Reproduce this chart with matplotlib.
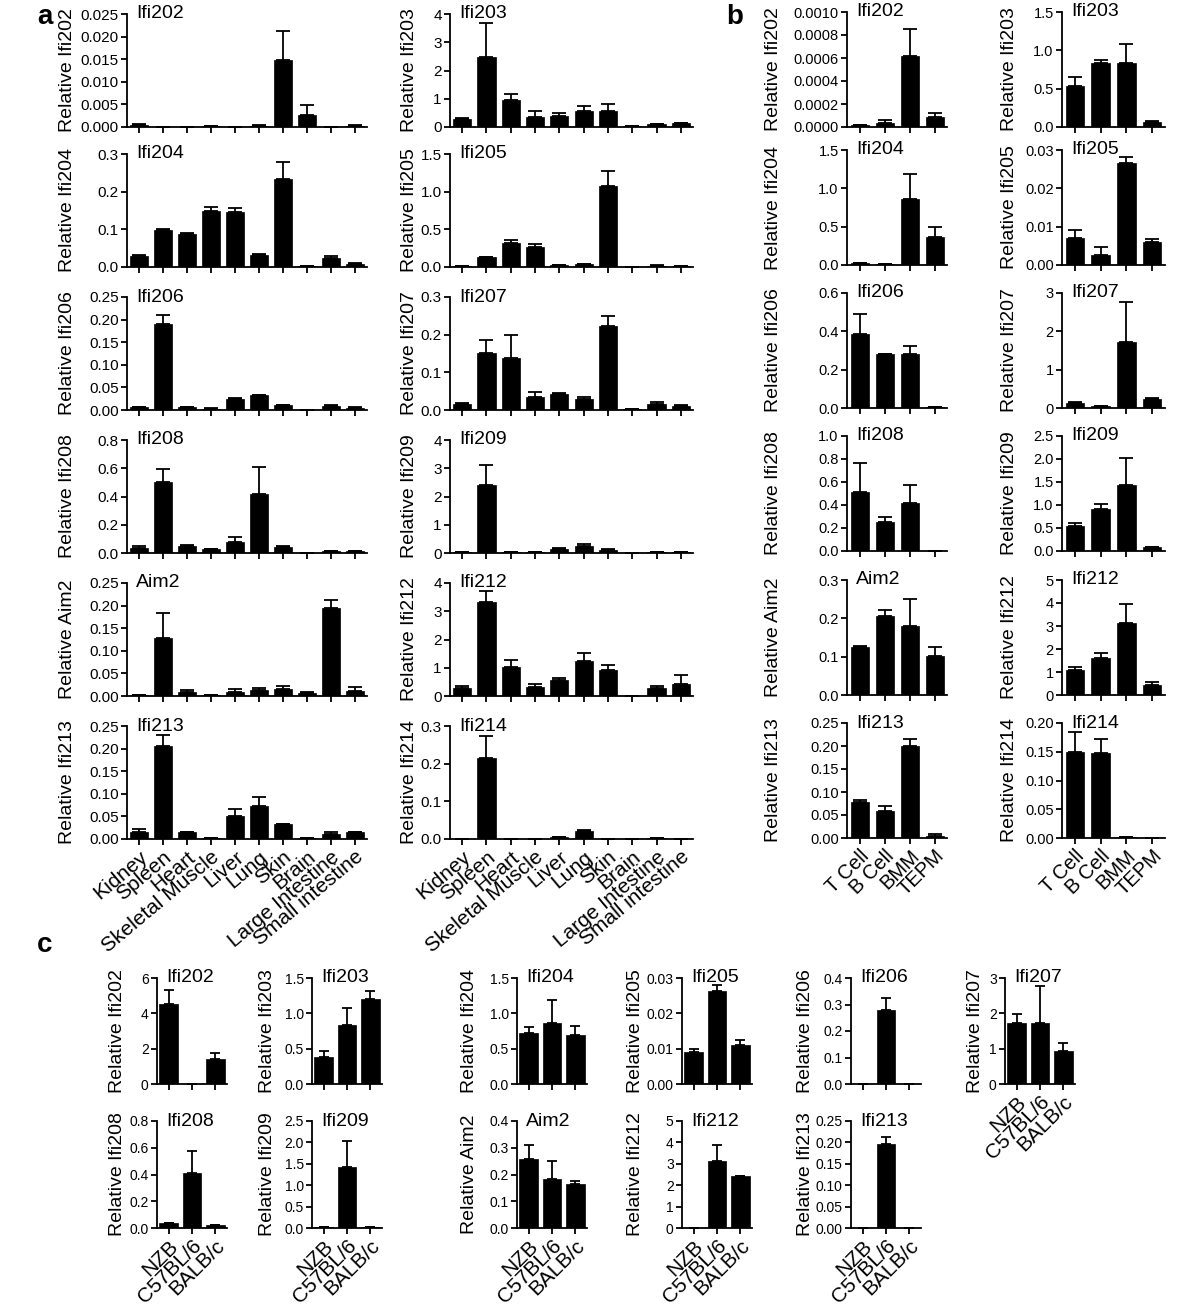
import numpy as np
import matplotlib.pyplot as plt

plt.rcParams['font.family'] = ['Liberation Sans', 'DejaVu Sans']

# ---- categories ----
tissues = ['Kidney', 'Spleen', 'Heart', 'Skeletal Muscle', 'Liver', 'Lung', 'Skin',
           'Brain', 'Large Intestine', 'Small intestine']
cells = ['T Cell', 'B Cell', 'BMM', 'TEPM']
strains = ['NZB', 'C57BL/6', 'BALB/c']

# ---- panel a: tissues (mean, sem) ----
a_Ifi202 = [0.0005, 0.0001, 0.0001, 0.0002, 0.0001, 0.0003, 0.0148, 0.0026, 0.0001, 0.0003]
a_Ifi202_sem = [0.0002, 0, 0, 0, 0, 0.0001, 0.0065, 0.0022, 0, 0.0001]
a_Ifi203 = [0.27, 2.47, 0.96, 0.34, 0.38, 0.57, 0.57, 0.02, 0.09, 0.13]
a_Ifi203_sem = [0.04, 1.2, 0.21, 0.23, 0.1, 0.19, 0.26, 0.005, 0.01, 0.02]
a_Ifi204 = [0.030, 0.099, 0.088, 0.148, 0.147, 0.033, 0.234, 0.003, 0.024, 0.009]
a_Ifi204_sem = [0.001, 0.001, 0.001, 0.011, 0.009, 0.001, 0.045, 0.0005, 0.006, 0.002]
a_Ifi205 = [0.01, 0.13, 0.32, 0.27, 0.02, 0.04, 1.08, 0.005, 0.015, 0.01]
a_Ifi205_sem = [0, 0.005, 0.04, 0.03, 0.005, 0.005, 0.2, 0, 0.005, 0]
a_Ifi206 = [0.007, 0.19, 0.006, 0.003, 0.024, 0.033, 0.011, 0.001, 0.008, 0.005]
a_Ifi206_sem = [0.0005, 0.021, 0.001, 0.0005, 0.003, 0.001, 0.001, 0, 0.002, 0.001]
a_Ifi207 = [0.016, 0.152, 0.139, 0.035, 0.042, 0.030, 0.223, 0.003, 0.016, 0.010]
a_Ifi207_sem = [0.003, 0.034, 0.061, 0.012, 0.003, 0.004, 0.026, 0, 0.006, 0.003]
a_Ifi208 = [0.038, 0.506, 0.052, 0.028, 0.080, 0.417, 0.043, 0.002, 0.014, 0.014]
a_Ifi208_sem = [0.009, 0.09, 0.003, 0.003, 0.031, 0.189, 0.004, 0, 0.002, 0.002]
a_Ifi209 = [0.02, 2.42, 0.05, 0.02, 0.14, 0.26, 0.12, 0.0, 0.03, 0.02]
a_Ifi209_sem = [0, 0.71, 0, 0, 0.04, 0.06, 0.03, 0, 0, 0]
a_Aim2 = [0.002, 0.129, 0.009, 0.002, 0.009, 0.013, 0.015, 0.007, 0.195, 0.012]
a_Aim2_sem = [0, 0.054, 0.004, 0, 0.007, 0.004, 0.007, 0.001, 0.018, 0.009]
a_Ifi212 = [0.30, 3.32, 1.01, 0.32, 0.58, 1.23, 0.93, 0.01, 0.27, 0.44]
a_Ifi212_sem = [0.04, 0.40, 0.28, 0.11, 0.05, 0.29, 0.16, 0, 0.07, 0.31]
a_Ifi213 = [0.015, 0.206, 0.015, 0.003, 0.050, 0.074, 0.033, 0.0015, 0.010, 0.015]
a_Ifi213_sem = [0.007, 0.025, 0.001, 0, 0.016, 0.020, 0, 0, 0.005, 0.001]
a_Ifi214 = [0.001, 0.214, 0.001, 0.0, 0.005, 0.021, 0.001, 0.0, 0.002, 0.001]
a_Ifi214_sem = [0, 0.06, 0, 0, 0.001, 0.002, 0, 0, 0, 0]

# ---- panel b: cell types ----
b_Ifi202 = [0.000015, 0.000035, 0.00062, 0.00009]
b_Ifi202_sem = [0.000005, 0.000025, 0.00023, 0.00003]
b_Ifi203 = [0.54, 0.83, 0.84, 0.065]
b_Ifi203_sem = [0.11, 0.05, 0.24, 0.013]
b_Ifi204 = [0.03, 0.013, 0.86, 0.37]
b_Ifi204_sem = [0.002, 0.001, 0.33, 0.12]
b_Ifi205 = [0.0070, 0.0027, 0.0266, 0.0061]
b_Ifi205_sem = [0.0021, 0.0021, 0.0017, 0.0007]
b_Ifi206 = [0.388, 0.281, 0.283, 0.003]
b_Ifi206_sem = [0.10, 0.0, 0.041, 0.0]
b_Ifi207 = [0.12, 0.05, 1.73, 0.24]
b_Ifi207_sem = [0.04, 0.005, 1.03, 0.03]
b_Ifi208 = [0.513, 0.249, 0.415, 0.002]
b_Ifi208_sem = [0.249, 0.049, 0.161, 0.0]
b_Ifi209 = [0.54, 0.92, 1.43, 0.08]
b_Ifi209_sem = [0.07, 0.10, 0.60, 0.01]
b_Aim2 = [0.124, 0.205, 0.181, 0.102]
b_Aim2_sem = [0.005, 0.017, 0.070, 0.022]
b_Ifi212 = [1.08, 1.59, 3.15, 0.42]
b_Ifi212_sem = [0.13, 0.23, 0.81, 0.14]
b_Ifi213 = [0.079, 0.059, 0.199, 0.005]
b_Ifi213_sem = [0.004, 0.010, 0.017, 0.004]
b_Ifi214 = [0.150, 0.147, 0.002, 0.0]
b_Ifi214_sem = [0.035, 0.025, 0.0005, 0.0]

# ---- panel c: mouse strains ----
c_Ifi202 = [4.55, 0.0, 1.40]
c_Ifi202_sem = [0.75, 0.0, 0.35]
c_Ifi203 = [0.38, 0.83, 1.20]
c_Ifi203_sem = [0.09, 0.24, 0.12]
c_Ifi204 = [0.72, 0.86, 0.69]
c_Ifi204_sem = [0.09, 0.33, 0.13]
c_Ifi205 = [0.0090, 0.0263, 0.0111]
c_Ifi205_sem = [0.0008, 0.0017, 0.0014]
c_Ifi206 = [0.001, 0.281, 0.001]
c_Ifi206_sem = [0.0, 0.043, 0.0]
c_Ifi207 = [1.73, 1.73, 0.94]
c_Ifi207_sem = [0.26, 1.03, 0.21]
c_Ifi208 = [0.04, 0.414, 0.025]
c_Ifi208_sem = [0.0, 0.163, 0.0]
c_Ifi209 = [0.02, 1.43, 0.02]
c_Ifi209_sem = [0.0, 0.60, 0.0]
c_Aim2 = [0.259, 0.183, 0.164]
c_Aim2_sem = [0.052, 0.068, 0.013]
c_Ifi212 = [0.0, 3.12, 2.41]
c_Ifi212_sem = [0.0, 0.78, 0.04]
c_Ifi213 = [0.0005, 0.197, 0.0]
c_Ifi213_sem = [0.0, 0.016, 0.0]

W, H = 1200, 1306
fig = plt.figure(figsize=(W / 100, H / 100), dpi=100)


def bar_panel(left, top, width, bottom, means, sem, ymax, step, fmt, gene, label_x,
              labels=None, tick_fs=11, text_fs=14, xlab_fs=15, xlab_rot=45,
              bar_w=0.75, cap=4.7):
    ax = fig.add_axes([left / W, 1 - bottom / H, width / W, (bottom - top) / H])
    x = np.arange(len(means))
    ax.bar(x, means, width=bar_w, color='black', edgecolor='black', linewidth=0.5, zorder=2)
    ax.errorbar(x, means, yerr=[np.zeros(len(sem)), sem], fmt='none', ecolor='black',
                elinewidth=1.3, capsize=cap, capthick=1.3, zorder=1)
    ax.set_xlim(-0.5, len(means) - 0.5)
    ax.set_ylim(0, ymax)
    ticks = np.arange(0, ymax + step / 2, step)
    ax.set_yticks(ticks)
    ax.set_yticklabels([fmt.format(t) for t in ticks], fontsize=tick_fs)
    ax.set_xticks(x)
    if labels is None:
        ax.set_xticklabels([])
    else:
        ax.set_xticklabels(labels, rotation=xlab_rot, ha='right', va='top',
                           rotation_mode='anchor', fontsize=xlab_fs)
    ax.spines['right'].set_visible(False)
    ax.spines['top'].set_visible(False)
    for s in ('left', 'bottom'):
        ax.spines[s].set_linewidth(1.3)
    ax.tick_params(width=1.3, length=4, pad=2)
    ax.patch.set_alpha(0)
    # gene name at the top left of the plot
    ax.text(9 / width, 1.0, gene, transform=ax.transAxes, fontsize=text_fs,
            ha='left', va='center')
    fig.text(label_x / W, 1 - (top + bottom) / 2 / H, 'Relative ' + gene,
             rotation=90, ha='center', va='center', fontsize=text_fs)
    return ax


# ---- panel a ----
a_rows = [14, 154, 297, 440, 583, 726]
a_h = 113
a_left = [
    (a_Ifi202, a_Ifi202_sem, 0.025, 0.005, '{:.3f}', 'Ifi202'),
    (a_Ifi204, a_Ifi204_sem, 0.3, 0.1, '{:.1f}', 'Ifi204'),
    (a_Ifi206, a_Ifi206_sem, 0.25, 0.05, '{:.2f}', 'Ifi206'),
    (a_Ifi208, a_Ifi208_sem, 0.8, 0.2, '{:.1f}', 'Ifi208'),
    (a_Aim2, a_Aim2_sem, 0.25, 0.05, '{:.2f}', 'Aim2'),
    (a_Ifi213, a_Ifi213_sem, 0.25, 0.05, '{:.2f}', 'Ifi213'),
]
a_right = [
    (a_Ifi203, a_Ifi203_sem, 4, 1, '{:.0f}', 'Ifi203'),
    (a_Ifi205, a_Ifi205_sem, 1.5, 0.5, '{:.1f}', 'Ifi205'),
    (a_Ifi207, a_Ifi207_sem, 0.3, 0.1, '{:.1f}', 'Ifi207'),
    (a_Ifi209, a_Ifi209_sem, 4, 1, '{:.0f}', 'Ifi209'),
    (a_Ifi212, a_Ifi212_sem, 4, 1, '{:.0f}', 'Ifi212'),
    (a_Ifi214, a_Ifi214_sem, 0.3, 0.1, '{:.1f}', 'Ifi214'),
]
for col, (x0, w, lx) in zip([a_left, a_right], [(127, 240, 67), (450, 243, 410)]):
    for i, (m, e, ymax, step, fmt, g) in enumerate(col):
        top = a_rows[i]
        bar_panel(x0, top, w, top + a_h, m, e, ymax, step, fmt, g, lx,
                  labels=tissues if i == 5 else None, xlab_fs=15, xlab_rot=40)

# ---- panel b ----
b_rows = [12, 150, 293, 436, 580, 723]
b_h = 115
b_left = [
    (b_Ifi202, b_Ifi202_sem, 0.001, 0.0002, '{:.4f}', 'Ifi202'),
    (b_Ifi204, b_Ifi204_sem, 1.5, 0.5, '{:.1f}', 'Ifi204'),
    (b_Ifi206, b_Ifi206_sem, 0.6, 0.2, '{:.1f}', 'Ifi206'),
    (b_Ifi208, b_Ifi208_sem, 1.0, 0.2, '{:.1f}', 'Ifi208'),
    (b_Aim2, b_Aim2_sem, 0.3, 0.1, '{:.1f}', 'Aim2'),
    (b_Ifi213, b_Ifi213_sem, 0.25, 0.05, '{:.2f}', 'Ifi213'),
]
b_right = [
    (b_Ifi203, b_Ifi203_sem, 1.5, 0.5, '{:.1f}', 'Ifi203'),
    (b_Ifi205, b_Ifi205_sem, 0.03, 0.01, '{:.2f}', 'Ifi205'),
    (b_Ifi207, b_Ifi207_sem, 3, 1, '{:.0f}', 'Ifi207'),
    (b_Ifi209, b_Ifi209_sem, 2.5, 0.5, '{:.1f}', 'Ifi209'),
    (b_Ifi212, b_Ifi212_sem, 5, 1, '{:.0f}', 'Ifi212'),
    (b_Ifi214, b_Ifi214_sem, 0.2, 0.05, '{:.2f}', 'Ifi214'),
]
for col, (x0, w, lx) in zip([b_left, b_right], [(847, 100, 774), (1062, 103, 1009)]):
    for i, (m, e, ymax, step, fmt, g) in enumerate(col):
        top = b_rows[i]
        bar_panel(x0, top, w, top + b_h, m, e, ymax, step, fmt, g, lx,
                  labels=cells if i == 5 else None, tick_fs=10.5, xlab_fs=14.5,
                  bar_w=0.72, cap=5)

# ---- panel c ----
c_cols = [(118, 157), (268, 312), (470, 517), (636, 682), (806, 851), (975, 1005)]
c_w = 70
c_row1 = [
    (c_Ifi202, c_Ifi202_sem, 6, 2, '{:.0f}', 'Ifi202'),
    (c_Ifi203, c_Ifi203_sem, 1.5, 0.5, '{:.1f}', 'Ifi203'),
    (c_Ifi204, c_Ifi204_sem, 1.5, 0.5, '{:.1f}', 'Ifi204'),
    (c_Ifi205, c_Ifi205_sem, 0.03, 0.01, '{:.2f}', 'Ifi205'),
    (c_Ifi206, c_Ifi206_sem, 0.4, 0.1, '{:.1f}', 'Ifi206'),
    (c_Ifi207, c_Ifi207_sem, 3, 1, '{:.0f}', 'Ifi207'),
]
c_row2 = [
    (c_Ifi208, c_Ifi208_sem, 0.8, 0.2, '{:.1f}', 'Ifi208'),
    (c_Ifi209, c_Ifi209_sem, 2.5, 0.5, '{:.1f}', 'Ifi209'),
    (c_Aim2, c_Aim2_sem, 0.4, 0.1, '{:.1f}', 'Aim2'),
    (c_Ifi212, c_Ifi212_sem, 5, 1, '{:.0f}', 'Ifi212'),
    (c_Ifi213, c_Ifi213_sem, 0.25, 0.05, '{:.2f}', 'Ifi213'),
]
for (top, bottom), row in zip([(978, 1084), (1121, 1228)], [c_row1, c_row2]):
    for j, (m, e, ymax, step, fmt, g) in enumerate(row):
        lx, x0 = c_cols[j]
        show = row is c_row2 or j == 5
        bar_panel(x0, top, c_w, bottom, m, e, ymax, step, fmt, g, lx,
                  labels=strains if show else None, tick_fs=10, text_fs=14,
                  xlab_fs=15, bar_w=0.8, cap=3.6)

# panel letters
for letter, (px, py) in zip('abc', [(45, 17), (735, 17), (45, 945)]):
    fig.text(px / W, 1 - py / H, letter, fontsize=20, fontweight='bold',
             ha='center', va='center')

fig.savefig('out.png', dpi=100)
